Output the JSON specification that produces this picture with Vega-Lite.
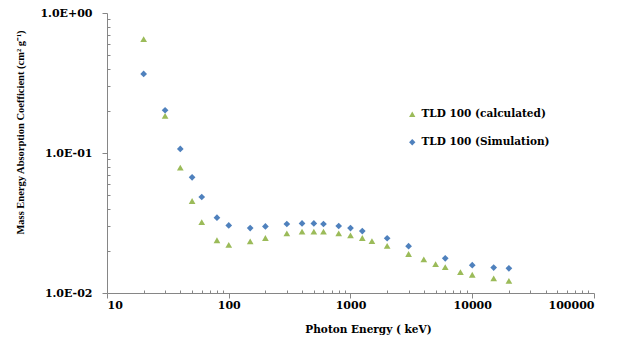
{
  "$schema": "https://vega.github.io/schema/vega-lite/v6.json",
  "autosize": {"type": "none"},
  "padding": {"left": 107, "top": 13, "right": 36, "bottom": 45},
  "width": 487,
  "height": 280,
  "background": "white",
  "config": {"view": {"stroke": null}},
  "data": {"values": [
    {"energy": 20, "value": 0.65, "series": "TLD 100 (calculated)"},
    {"energy": 30, "value": 0.184, "series": "TLD 100 (calculated)"},
    {"energy": 40, "value": 0.0785, "series": "TLD 100 (calculated)"},
    {"energy": 50, "value": 0.0454, "series": "TLD 100 (calculated)"},
    {"energy": 60, "value": 0.0321, "series": "TLD 100 (calculated)"},
    {"energy": 80, "value": 0.0238, "series": "TLD 100 (calculated)"},
    {"energy": 100, "value": 0.0221, "series": "TLD 100 (calculated)"},
    {"energy": 150, "value": 0.0234, "series": "TLD 100 (calculated)"},
    {"energy": 200, "value": 0.0247, "series": "TLD 100 (calculated)"},
    {"energy": 300, "value": 0.0267, "series": "TLD 100 (calculated)"},
    {"energy": 400, "value": 0.0274, "series": "TLD 100 (calculated)"},
    {"energy": 500, "value": 0.0274, "series": "TLD 100 (calculated)"},
    {"energy": 600, "value": 0.0274, "series": "TLD 100 (calculated)"},
    {"energy": 800, "value": 0.0267, "series": "TLD 100 (calculated)"},
    {"energy": 1000, "value": 0.0258, "series": "TLD 100 (calculated)"},
    {"energy": 1250, "value": 0.0247, "series": "TLD 100 (calculated)"},
    {"energy": 1500, "value": 0.0235, "series": "TLD 100 (calculated)"},
    {"energy": 2000, "value": 0.0217, "series": "TLD 100 (calculated)"},
    {"energy": 3000, "value": 0.019, "series": "TLD 100 (calculated)"},
    {"energy": 4000, "value": 0.0174, "series": "TLD 100 (calculated)"},
    {"energy": 5000, "value": 0.0161, "series": "TLD 100 (calculated)"},
    {"energy": 6000, "value": 0.0153, "series": "TLD 100 (calculated)"},
    {"energy": 8000, "value": 0.0141, "series": "TLD 100 (calculated)"},
    {"energy": 10000, "value": 0.0135, "series": "TLD 100 (calculated)"},
    {"energy": 15000, "value": 0.0127, "series": "TLD 100 (calculated)"},
    {"energy": 20000, "value": 0.0122, "series": "TLD 100 (calculated)"},
    {"energy": 20, "value": 0.367, "series": "TLD 100 (Simulation)"},
    {"energy": 30, "value": 0.202, "series": "TLD 100 (Simulation)"},
    {"energy": 40, "value": 0.107, "series": "TLD 100 (Simulation)"},
    {"energy": 50, "value": 0.067, "series": "TLD 100 (Simulation)"},
    {"energy": 60, "value": 0.0485, "series": "TLD 100 (Simulation)"},
    {"energy": 80, "value": 0.0345, "series": "TLD 100 (Simulation)"},
    {"energy": 100, "value": 0.0304, "series": "TLD 100 (Simulation)"},
    {"energy": 150, "value": 0.0291, "series": "TLD 100 (Simulation)"},
    {"energy": 200, "value": 0.0299, "series": "TLD 100 (Simulation)"},
    {"energy": 300, "value": 0.0311, "series": "TLD 100 (Simulation)"},
    {"energy": 400, "value": 0.0314, "series": "TLD 100 (Simulation)"},
    {"energy": 500, "value": 0.0314, "series": "TLD 100 (Simulation)"},
    {"energy": 600, "value": 0.0311, "series": "TLD 100 (Simulation)"},
    {"energy": 800, "value": 0.0301, "series": "TLD 100 (Simulation)"},
    {"energy": 1000, "value": 0.0291, "series": "TLD 100 (Simulation)"},
    {"energy": 1250, "value": 0.0277, "series": "TLD 100 (Simulation)"},
    {"energy": 2000, "value": 0.0246, "series": "TLD 100 (Simulation)"},
    {"energy": 3000, "value": 0.0216, "series": "TLD 100 (Simulation)"},
    {"energy": 6000, "value": 0.0177, "series": "TLD 100 (Simulation)"},
    {"energy": 10000, "value": 0.0158, "series": "TLD 100 (Simulation)"},
    {"energy": 15000, "value": 0.0152, "series": "TLD 100 (Simulation)"},
    {"energy": 20000, "value": 0.015, "series": "TLD 100 (Simulation)"}
  ]},
  "mark": {"type": "point", "filled": true, "opacity": 1},
  "encoding": {
    "x": {
      "field": "energy", "type": "quantitative",
      "scale": {"type": "log", "domain": [10, 100000], "nice": false},
      "axis": {
        "values": [10,20,30,40,50,60,70,80,90,100,200,300,400,500,600,700,800,900,1000,2000,3000,4000,5000,6000,7000,8000,9000,10000,20000,30000,40000,50000,60000,70000,80000,90000,100000],
        "labelExpr": "abs(log(datum.value)/LN10 - round(log(datum.value)/LN10)) < 0.000001 ? format(datum.value, 'd') : ''",
        "labelOverlap": false,
        "labelFont": "DejaVu Serif", "labelFontWeight": "bold", "labelFontSize": 11, "labelColor": "black",
        "labelPadding": 1,
        "tickSize": {"condition": {"test": "abs(log(datum.value)/LN10 - round(log(datum.value)/LN10)) < 0.000001", "value": 5}, "value": -3},
        "tickColor": "#868686", "domainColor": "#868686", "grid": false,
        "title": "Photon Energy ( keV)",
        "titleFont": "DejaVu Serif", "titleFontWeight": "bold", "titleFontSize": 10.5, "titleColor": "black",
        "titleX": 261, "titleY": 36, "titleAlign": "center", "titleBaseline": "middle"
      }
    },
    "y": {
      "field": "value", "type": "quantitative",
      "scale": {"type": "log", "domain": [0.01, 1], "nice": false},
      "axis": {
        "values": [0.01,0.02,0.03,0.04,0.05,0.06,0.07,0.08,0.09,0.1,0.2,0.3,0.4,0.5,0.6,0.7,0.8,0.9,1],
        "labelExpr": "abs(log(datum.value)/LN10 - round(log(datum.value)/LN10)) < 0.000001 ? ('1.0E' + (round(log(datum.value)/LN10) < 0 ? '-' : '+') + '0' + abs(round(log(datum.value)/LN10))) : ''",
        "labelOverlap": false,
        "labelFont": "DejaVu Serif", "labelFontWeight": "bold", "labelFontSize": 11, "labelColor": "black",
        "labelPadding": 10,
        "tickSize": {"condition": {"test": "abs(log(datum.value)/LN10 - round(log(datum.value)/LN10)) < 0.000001", "value": 5}, "value": -3},
        "tickColor": "#868686", "domainColor": "#868686", "grid": false,
        "title": "Mass Energy Absorption  Coefficient (cm² g⁻¹)",
        "titleFont": "Liberation Serif", "titleFontWeight": "bold", "titleFontSize": 10.5, "titleColor": "black",
        "titleX": -87, "titleY": 119, "titleAngle": -90, "titleAlign": "center", "titleBaseline": "middle"
      }
    },
    "color": {
      "field": "series", "type": "nominal",
      "scale": {"domain": ["TLD 100 (calculated)", "TLD 100 (Simulation)"], "range": ["#9BBB59", "#4F81BD"]},
      "legend": {
        "title": null, "orient": "none", "legendX": 300, "legendY": 96,
        "labelFont": "DejaVu Serif", "labelFontWeight": "bold", "labelFontSize": 10.5, "labelColor": "black",
        "symbolSize": 40, "rowPadding": 17, "padding": 0, "labelOffset": 4
      }
    },
    "shape": {
      "field": "series", "type": "nominal",
      "scale": {"domain": ["TLD 100 (calculated)", "TLD 100 (Simulation)"], "range": ["triangle-up", "diamond"]}
    },
    "size": {"value": 45}
  }
}
